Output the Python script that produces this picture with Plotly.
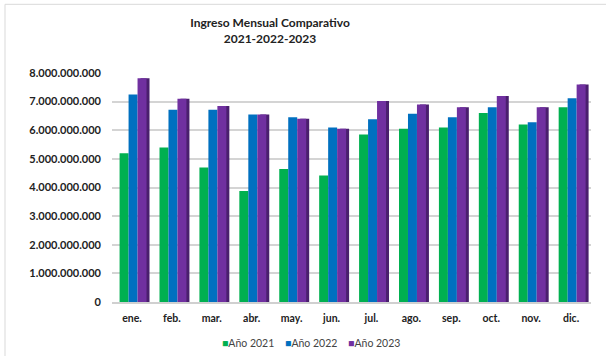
import plotly.graph_objects as go

months = ["ene.", "feb.", "mar.", "abr.", "may.", "jun.", "jul.", "ago.", "sep.", "oct.", "nov.", "dic."]
series_names = ["Año 2021", "Año 2022", "Año 2023"]
v2021 = [5.20e9, 5.40e9, 4.70e9, 3.88e9, 4.65e9, 4.42e9, 5.85e9, 6.05e9, 6.10e9, 6.60e9, 6.20e9, 6.80e9]
v2022 = [7.25e9, 6.72e9, 6.72e9, 6.55e9, 6.45e9, 6.10e9, 6.38e9, 6.58e9, 6.45e9, 6.80e9, 6.28e9, 7.12e9]
v2023 = [7.82e9, 7.10e9, 6.85e9, 6.55e9, 6.40e9, 6.05e9, 7.02e9, 6.90e9, 6.80e9, 7.20e9, 6.80e9, 7.60e9]
colors = ["#00B050", "#0070C0", "#7030A0"]
side_color = "#4A1F6E"
y_ticks = [0, 1e9, 2e9, 3e9, 4e9, 5e9, 6e9, 7e9, 8e9]

x = list(range(len(months)))
w = 0.225
offsets = [-0.31, -0.085, 0.14]

fig = go.Figure()
# dark side face behind the last series
fig.add_trace(go.Bar(x=x, y=v2023, width=w, offset=offsets[2] + 0.075,
                     marker=dict(color=side_color, line=dict(width=0)),
                     showlegend=False, hoverinfo="skip"))
for name, vals, col, off in zip(series_names, [v2021, v2022, v2023], colors, offsets):
    fig.add_trace(go.Bar(x=x, y=vals, name=name, width=w, offset=off,
                         marker=dict(color=col, line=dict(width=0)),
                         showlegend=False))

legend_text = "&nbsp;&nbsp;&nbsp;&nbsp;".join(
    "<span style='color:%s'>■</span>%s" % (c, n) for c, n in zip(colors, series_names))

fig.update_layout(
    width=606, height=356,
    barmode="overlay",
    separators=",.",
    paper_bgcolor="white", plot_bgcolor="white",
    margin=dict(l=112, r=15, t=73, b=54, autoexpand=False),
    font=dict(family="Lato, Liberation Sans, sans-serif", color="#222"),
    title=dict(text="<b>Ingreso Mensual Comparativo<br>2021-2022-2023</b>",
               x=270 / 606, xref="container", xanchor="center",
               y=1 - 27 / 356, yref="container", yanchor="middle",
               font=dict(size=12, color="#222")),
    xaxis=dict(tickmode="array", tickvals=x, ticktext=["<b>%s</b>" % m for m in months],
               range=[-0.5, 11.5], showgrid=False, zeroline=False,
               showline=True, linecolor="#d0d0d0", linewidth=1.5,
               tickfont=dict(size=10.5, color="#222"), ticks="",
               ticklabelstandoff=6),
    yaxis=dict(range=[0, 8e9], tickvals=y_ticks, tickformat=",d",
               showgrid=True, gridcolor="#d4d4d4", gridwidth=1.5,
               zeroline=False, showline=False,
               tickfont=dict(size=11, color="#222", weight="bold"),
               ticklabelstandoff=10),
    showlegend=False,
    annotations=[dict(text=legend_text, xref="paper", yref="paper",
                      x=(311 - 112) / 479, y=-0.18, xanchor="center", yanchor="middle",
                      showarrow=False, font=dict(size=10.5, color="#444"))],
    shapes=[dict(type="rect", xref="paper", yref="paper",
                 x0=-107 / 479, x1=1.05, y0=-0.35, y1=1.3,
                 line=dict(color="#d9d9d9", width=1), layer="below")],
)

fig.write_html("out.html", config={"displayModeBar": False},
               post_script="document.body.style.margin='0px';")
